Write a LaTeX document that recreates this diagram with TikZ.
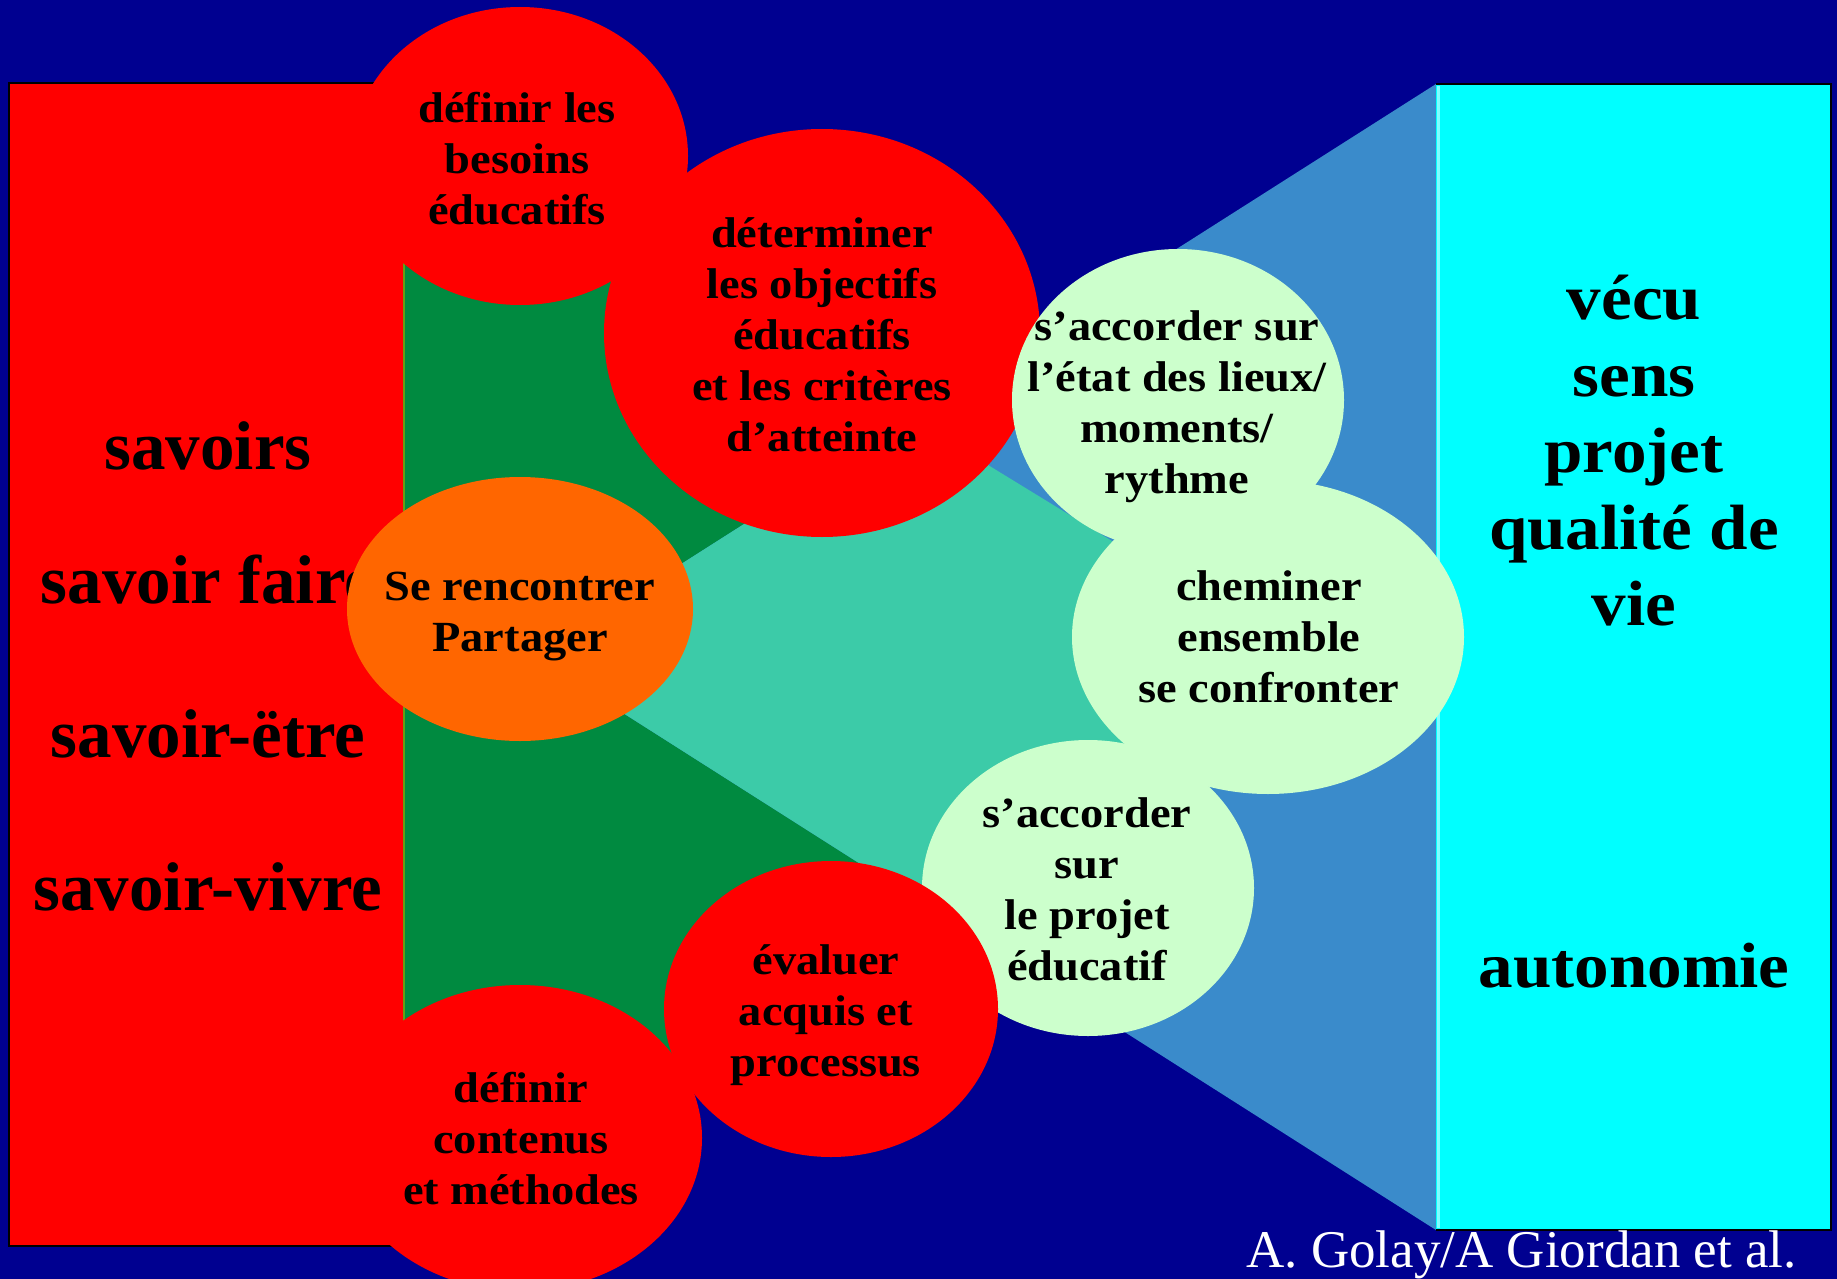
\documentclass[tikz,border=0pt]{standalone}
\usepackage{fontspec}
\setmainfont{Liberation Serif}
\newfontfamily\bubblefont{Liberation Serif}[FakeStretch=1.08]
\usetikzlibrary{shapes.geometric}

\definecolor{navybg}{RGB}{0,0,144}
\definecolor{zonegreen}{RGB}{0,138,64}
\definecolor{zoneblue}{RGB}{58,139,203}
\definecolor{zoneteal}{RGB}{60,203,168}
\definecolor{palegreen}{RGB}{204,255,204}
\definecolor{meetorange}{RGB}{255,102,0}
\definecolor{edgeolive}{RGB}{100,160,20}
\definecolor{panelcyan}{RGB}{0,255,255}
\definecolor{cyanedge}{RGB}{130,255,255}

\tikzset{
  bubble/.style={ellipse, fill=#1, draw=none, inner sep=0pt},
  bubbletext/.style={align=center, inner sep=0pt, text=black,
    font=\bubblefont\bfseries\fontsize{43}{51}\selectfont},
  bigleft/.style={inner sep=0pt, text=black, anchor=base,
    font=\bfseries\fontsize{69}{80}\selectfont},
  bigright/.style={align=center, inner sep=0pt, text=black,
    font=\bubblefont\bfseries\fontsize{64}{76.5}\selectfont},
}

\begin{document}
\begin{tikzpicture}[x=1pt,y=-1pt]
  % page background
  \useasboundingbox (0,0) rectangle (1837,1279);
  \fill[navybg] (0,0) rectangle (1837,1279);

  % left panel with the four kinds of knowledge
  \filldraw[fill=red, draw=black, line width=1.5pt] (9,83) rectangle (420,1246);
  \node[bigleft] (savoirs) at (208,469) {savoirs};
  \node[bigleft] (faire)   at (208,603) {savoir faire};
  \node[bigleft] (etre)    at (208,757) {savoir-ëtre};
  \node[bigleft] (vivre)   at (208,910) {savoir-vivre};

  % green arrow zone, blue funnel and their overlap
  \fill[zonegreen] (404,250) -- (637,250) -- (1290,650) -- (700,1060) -- (404,1060) -- cycle;
  \draw[edgeolive, line width=2.5pt] (404,250) -- (404,1060);
  \fill[zoneblue] (535,657) -- (1436,84) -- (1436,1230) -- cycle;
  \begin{scope}
    \clip (404,250) -- (637,250) -- (1290,650) -- (700,1060) -- (404,1060) -- cycle;
    \fill[zoneteal] (535,657) -- (1436,84) -- (1436,1230) -- cycle;
  \end{scope}

  % right panel
  \fill[panelcyan] (1436,84) rectangle (1831,1230);
  \draw[black, line width=2pt] (1436,84) -- (1831,84) -- (1831,1230) -- (1436,1230);
  \draw[cyanedge, line width=3pt] (1438,86) -- (1438,1228);
  \node[bigright] (valeurs) at (1634,451) {vécu\\sens\\projet\\qualité de\\vie};
  \node[bigright, anchor=base] (autonomie) at (1634,987) {autonomie};

  % bubbles
  \node[bubble=red, minimum width=336pt, minimum height=298pt] (besoins) at (520,156) {};
  \node[bubble=red, minimum width=436pt, minimum height=408pt] (objectifs) at (822,333) {};
  \node[bubble=meetorange, minimum width=346pt, minimum height=264pt] (rencontre) at (520,609) {};
  \node[bubble=palegreen, minimum width=332pt, minimum height=302pt] (etatlieux) at (1178,400) {};
  \node[bubble=palegreen, minimum width=392pt, minimum height=314pt] (cheminer) at (1268,637) {};
  \node[bubble=palegreen, minimum width=332pt, minimum height=296pt] (projet) at (1088,888) {};
  \node[bubble=red, minimum width=334pt, minimum height=296pt] (evaluer) at (831,1009) {};
  \node[bubble=red, minimum width=364pt, minimum height=306pt] (contenus) at (520,1138) {};

  % bubble labels
  \node[bubbletext] (besoinsT)   at (517,159)  {définir les\\besoins\\éducatifs};
  \node[bubbletext] (objectifsT) at (822,335)  {déterminer\\les objectifs\\éducatifs\\et les critères\\d’atteinte};
  \node[bubbletext] (rencontreT) at (520,617)  {Se rencontrer\\Partager};
  \node[bubbletext] (etatlieuxT) at (1177,407) {s’accorder sur\\l’état des lieux/\\moments/\\rythme};
  \node[bubbletext] (cheminerT)  at (1269,637) {cheminer\\ensemble\\se confronter};
  \node[bubbletext] (projetT)    at (1087,889) {s’accorder\\sur\\le projet\\éducatif};
  \node[bubbletext] (evaluerT)   at (826,1015) {évaluer\\acquis et\\processus};
  \node[bubbletext] (contenusT)  at (521,1139) {définir\\contenus\\et méthodes};

  % credit line
  \node[anchor=base east, inner sep=0pt, text=white,
        font=\fontsize{53}{60}\selectfont] (credit) at (1797,1267) {A. Golay/A Giordan et al.};
\end{tikzpicture}
\end{document}
